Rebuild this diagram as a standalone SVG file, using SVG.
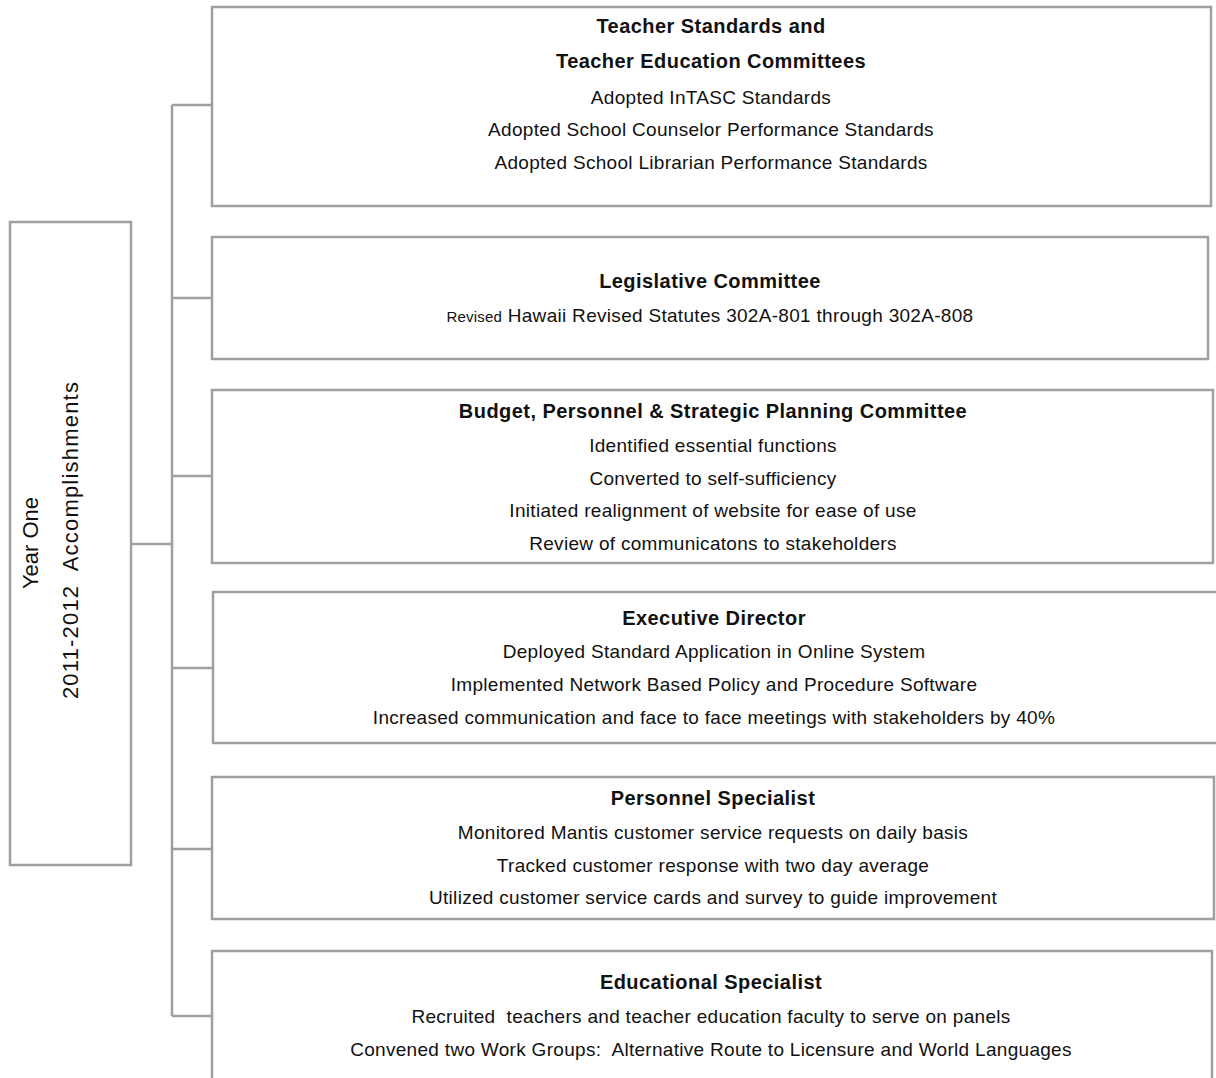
<svg xmlns="http://www.w3.org/2000/svg" width="1216" height="1078" viewBox="0 0 1216 1078">
<style>
.box{fill:#ffffff;stroke:#a0a0a0;stroke-width:2.5}
.conn{fill:none;stroke:#a0a0a0;stroke-width:2.5}
text{font-family:"Liberation Sans",Arial,sans-serif;fill:#111111;text-anchor:middle}
.t{font-size:20px;font-weight:bold;letter-spacing:0.45px}
.l{font-size:19px;letter-spacing:0.3px}
.s{font-size:15px;letter-spacing:0.2px}
.v{font-size:22px}
.v2{font-size:22px;letter-spacing:1.2px}
</style>
<rect width="1216" height="1078" fill="#ffffff"/>
<g id="connectors">
<path class="conn" d="M131 544 H172 M172 105 V1016 M172 105 H212 M172 298 H212 M172 476 H212 M172 668 H213 M172 849 H212 M172 1016 H212"/>
</g>
<g id="root">
<rect class="box" x="10" y="222" width="121" height="643"/>
<text class="v" transform="translate(38 543) rotate(-90)">Year One</text>
<text class="v2" transform="translate(78 540) rotate(-90)" xml:space="preserve">2011-2012  Accomplishments</text>
</g>
<g id="teacher-standards">
<rect class="box" x="212" y="7" width="999" height="199"/>
<text class="t" x="711" y="33">Teacher Standards and</text>
<text class="t" x="711" y="68">Teacher Education Committees</text>
<text class="l" x="711" y="104">Adopted InTASC Standards</text>
<text class="l" x="711" y="136">Adopted School Counselor Performance Standards</text>
<text class="l" x="711" y="169">Adopted School Librarian Performance Standards</text>
</g>
<g id="legislative">
<rect class="box" x="212" y="237" width="996" height="122"/>
<text class="t" x="710" y="288">Legislative Committee</text>
<text class="l" x="710" y="322"><tspan class="s">Revised</tspan> Hawaii Revised Statutes 302A-801 through 302A-808</text>
</g>
<g id="budget">
<rect class="box" x="212" y="390" width="1001" height="173"/>
<text class="t" x="713" y="418">Budget, Personnel &amp; Strategic Planning Committee</text>
<text class="l" x="713" y="452">Identified essential functions</text>
<text class="l" x="713" y="485">Converted to self-sufficiency</text>
<text class="l" x="713" y="517">Initiated realignment of website for ease of use</text>
<text class="l" x="713" y="550">Review of communicatons to stakeholders</text>
</g>
<g id="executive">
<rect class="box" x="213" y="592" width="1010" height="151"/>
<text class="t" x="714" y="625">Executive Director</text>
<text class="l" x="714" y="658">Deployed Standard Application in Online System</text>
<text class="l" x="714" y="691">Implemented Network Based Policy and Procedure Software</text>
<text class="l" x="714" y="724">Increased communication and face to face meetings with stakeholders by 40%</text>
</g>
<g id="personnel">
<rect class="box" x="212" y="777" width="1002" height="142"/>
<text class="t" x="713" y="805">Personnel Specialist</text>
<text class="l" x="713" y="839">Monitored Mantis customer service requests on daily basis</text>
<text class="l" x="713" y="872">Tracked customer response with two day average</text>
<text class="l" x="713" y="904">Utilized customer service cards and survey to guide improvement</text>
</g>
<g id="educational">
<rect class="box" x="212" y="951" width="1000" height="140"/>
<text class="t" x="711" y="989">Educational Specialist</text>
<text class="l" x="711" y="1023" xml:space="preserve">Recruited  teachers and teacher education faculty to serve on panels</text>
<text class="l" x="711" y="1056" xml:space="preserve">Convened two Work Groups:  Alternative Route to Licensure and World Languages</text>
</g>
</svg>
